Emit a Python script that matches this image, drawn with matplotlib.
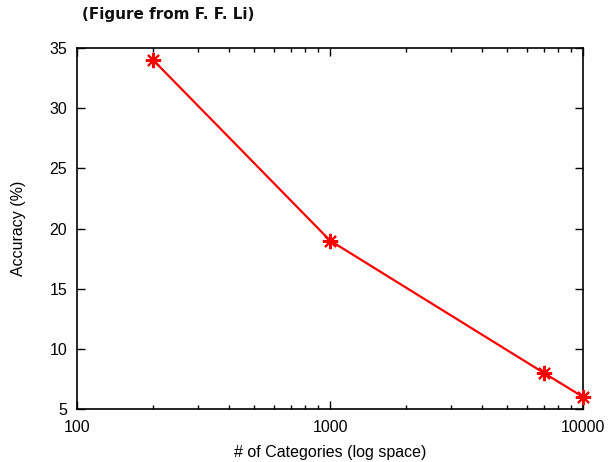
import numpy as np
import matplotlib.pyplot as plt
from matplotlib.ticker import LogLocator, NullFormatter, FixedLocator

# data
categories = [200, 1000, 7000, 10000]
accuracy = [34, 19, 8, 6]

plt.rcParams['font.family'] = ['Liberation Sans', 'DejaVu Sans']

fig = plt.figure(figsize=(6.09, 4.62), dpi=100)
ax = fig.add_axes([77/609, 1 - 409/462, (583 - 77)/609, (409 - 48)/462])

ax.plot(categories, accuracy, color='red', lw=1.6,
        marker=(8, 2, 0), markersize=11, markeredgewidth=1.5,
        clip_on=False, zorder=5)

ax.set_xscale('log')
ax.set_xlim(100, 10000)
ax.set_ylim(5, 35)
ax.xaxis.set_major_locator(FixedLocator([100, 1000, 10000]))
ax.xaxis.set_major_formatter(plt.FuncFormatter(lambda v, p: '%d' % v))
ax.xaxis.set_minor_locator(LogLocator(base=10, subs=np.arange(2, 10)))
ax.xaxis.set_minor_formatter(NullFormatter())
ax.set_yticks(np.arange(5, 36, 5))

ax.tick_params(which='both', direction='in', top=True, right=True,
               labelsize=11.5)
ax.tick_params(axis='x', pad=8)
ax.tick_params(axis='y', pad=7)
ax.tick_params(which='major', length=6, width=1)
ax.tick_params(which='minor', length=3, width=1)
for s in ax.spines.values():
    s.set_linewidth(1.2)

ax.set_xlabel('# of Categories (log space)', fontsize=11.5, va='center')
ax.xaxis.set_label_coords(0.5, (409 - 453) / 361)
ax.set_ylabel('Accuracy (%)', fontsize=11.5, labelpad=17)

fig.text(82/609, 1 - 14/462, '(Figure from F. F. Li)', fontsize=11,
         family='DejaVu Sans', weight='bold', color='#111111',
         va='center', ha='left')

fig.savefig('out.png', dpi=100)
